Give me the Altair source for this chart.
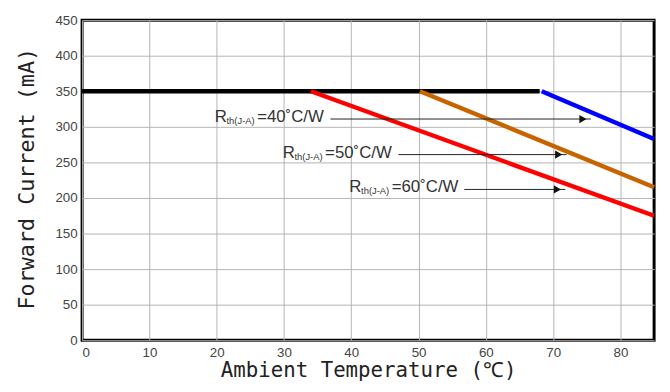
import altair as alt
import pandas as pd

# ---- data ----
black_temp = [0, 68]
black_cur = [350, 350]
blue_temp = [68.3, 85]
blue_cur = [350, 283]
orange_temp = [50.2, 85]
orange_cur = [350, 215]
red_temp = [34.0, 85]
red_cur = [350, 175]

x_ticks = [0, 10, 20, 30, 40, 50, 60, 70, 80]
y_ticks = [0, 50, 100, 150, 200, 250, 300, 350, 400, 450]

ann_main = ["=40˚C/W", "=50˚C/W", "=60˚C/W"]
ann_text_x = [19.7, 29.8, 39.7]
ann_y = [311, 261, 212]
ann_line_x0 = [36.9, 47.0, 56.8]
ann_line_x1 = [75.6, 72.0, 71.8]

rows = []
for name, t, c in [("limit", black_temp, black_cur), ("40", blue_temp, blue_cur),
                   ("50", orange_temp, orange_cur), ("60", red_temp, red_cur)]:
    for ti, ci in zip(t, c):
        rows.append({"series": name, "temp": ti, "cur": ci})
lines_df = pd.DataFrame(rows)

ann_df = pd.DataFrame({
    "main": ann_main, "tx": ann_text_x, "y": ann_y,
    "x0": ann_line_x0, "x1": ann_line_x1,
    "R": ["R"] * 3, "sub": ["th(J-A)"] * 3,
})

xs = alt.Scale(domain=[0, 85], nice=False)
ys = alt.Scale(domain=[0, 450], nice=False)

x_axis = alt.Axis(values=x_ticks, grid=True, ticks=False, domain=False,
                  title="Ambient Temperature (℃)", labelPadding=5,
                  titleY=31, titleBaseline="middle", titleFontSize=21)
y_axis = alt.Axis(values=y_ticks, grid=True, ticks=False, domain=False,
                  title="Forward Current (mA)", labelPadding=5, labelOverlap=False,
                  titleX=-56, titleY=160, titleAngle=270, titleFontSize=22,
                  titleAlign="center", titleBaseline="middle")

ax_x = lambda f: alt.X(f, scale=xs, axis=x_axis, title="Ambient Temperature (℃)")
ax_y = lambda f: alt.Y(f, scale=ys, axis=y_axis, title="Forward Current (mA)")

color_scale = alt.Scale(domain=["60", "50", "40", "limit"],
                        range=["#ff0000", "#c86400", "#0000ff", "#000000"])

base_lines = alt.Chart(lines_df).mark_line(strokeWidth=4.5).encode(
    x=ax_x("temp:Q"),
    y=ax_y("cur:Q"),
    color=alt.Color("series:N", scale=color_scale, legend=None),
    order=alt.Order("temp:Q"),
)

ann_base = alt.Chart(ann_df)

arrow_lines = ann_base.mark_rule(color="#222", strokeWidth=1).encode(
    x=ax_x("x0:Q"), x2="x1:Q", y=ax_y("y:Q"))
arrow_heads = ann_base.mark_point(shape="triangle-right", filled=True,
                                  color="#111", size=70, opacity=1, xOffset=-8).encode(
    x=ax_x("x1:Q"), y=ax_y("y:Q"))
txt_R = ann_base.mark_text(align="left", baseline="middle", font="Liberation Sans",
                           fontSize=17, color="#333", dy=-2).encode(
    x=ax_x("tx:Q"), y=ax_y("y:Q"), text="R:N")
txt_sub = ann_base.mark_text(align="left", baseline="middle", font="Liberation Sans",
                             fontSize=9.5, color="#333", dx=12, dy=2).encode(
    x=ax_x("tx:Q"), y=ax_y("y:Q"), text="sub:N")
txt_main = ann_base.mark_text(align="left", baseline="middle", font="Liberation Sans",
                              fontSize=17, color="#333", dx=43, dy=-2).encode(
    x=ax_x("tx:Q"), y=ax_y("y:Q"), text="main:N")

chart = alt.layer(base_lines, arrow_lines, arrow_heads, txt_R, txt_sub, txt_main).properties(
    width=579, height=324,
    autosize=alt.AutoSizeParams(type="none"),
    padding={"left": 75, "top": 10, "right": 8, "bottom": 42},
).configure_view(stroke="black", strokeWidth=3).configure_axis(
    gridColor="#b4b4b4", gridWidth=1, gridOpacity=1,
    labelFont="Liberation Sans", labelFontSize=13.5, labelColor="#444",
    titleFont="DejaVu Sans Mono", titleFontWeight="normal",
    titleColor="#222",
)

chart.save("out.html", embed_options={"renderer": "svg", "actions": False})
